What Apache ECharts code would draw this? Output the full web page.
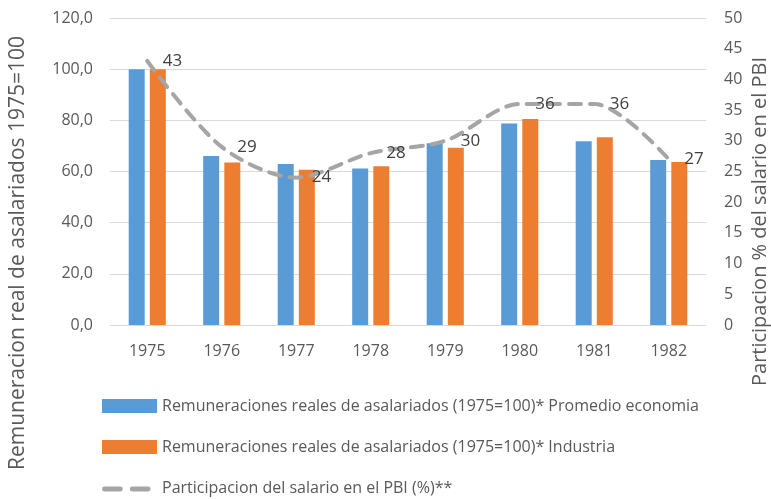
<!DOCTYPE html>
<html>
<head>
<meta charset="utf-8">
<script src="https://cdn.jsdelivr.net/npm/echarts@6/dist/echarts.min.js"></script>
<style>
  html, body { margin: 0; padding: 0; background: #fff; }
  #main { width: 771px; height: 499px; }
</style>
</head>
<body>
<div id="main"></div>
<script>
var years = ['1975', '1976', '1977', '1978', '1979', '1980', '1981', '1982'];
var promedio = [100, 66.1, 62.9, 61.2, 71.0, 78.8, 71.8, 64.5];
var industria = [100, 63.5, 60.7, 62.1, 69.3, 80.5, 73.4, 63.7];
var participacion = [43, 29, 24, 28, 30, 36, 36, 27];

var fontFam = '"Open Sans", sans-serif';
var grey = '#595959';

var nameProm = 'Remuneraciones reales de asalariados (1975=100)* Promedio economia';
var nameInd = 'Remuneraciones reales de asalariados (1975=100)* Industria';
var namePart = 'Participacion del salario en el PBI (%)**';

var chart = echarts.init(document.getElementById('main'));

var option = {
  animation: false,
  textStyle: { fontFamily: fontFam },
  grid: { left: 110, right: 65, top: 18, bottom: 174 },
  legend: {
    orient: 'vertical',
    left: 97,
    top: 393,
    height: 110,
    itemGap: 25,
    itemWidth: 55,
    itemHeight: 14,
    textStyle: { color: grey, fontSize: 16, fontFamily: fontFam },
    data: [
      { name: nameProm, icon: 'rect' },
      { name: nameInd, icon: 'rect' },
      {
        name: namePart,
        // two rounded dashes, with tiny corner dots to keep the box height
        icon: 'path://M0,0h0.01v0.01h-0.01z M0,12h0.01v0.01h-0.01z M2,4.5h16a2.5,2.5,0,0,1,0,5h-16a2.5,2.5,0,0,1,0,-5z M30,4.5h16a2.5,2.5,0,0,1,0,5h-16a2.5,2.5,0,0,1,0,-5z M55,0h0.01v0.01h-0.01z',
        itemStyle: { color: '#a5a5a5' }
      }
    ]
  },
  xAxis: {
    type: 'category',
    data: years,
    axisLine: { lineStyle: { color: '#d9d9d9' } },
    axisTick: { show: false },
    axisLabel: { color: grey, fontSize: 16, margin: 18 }
  },
  yAxis: [
    {
      type: 'value',
      min: 0, max: 120, interval: 20,
      axisLabel: {
        color: grey, fontSize: 16, margin: 17,
        formatter: function (v) { return v.toFixed(1).replace('.', ','); }
      },
      splitLine: { lineStyle: { color: '#d9d9d9' } }
    },
    {
      type: 'value',
      min: 0, max: 50, interval: 5,
      axisLabel: { color: grey, fontSize: 16, margin: 18 },
      splitLine: { show: false }
    }
  ],
  graphic: [
    {
      type: 'text',
      rotation: Math.PI / 2,
      x: 8, y: 470,
      style: {
        text: 'Remuneracion real de asalariados 1975=100',
        fill: grey, font: '21px ' + fontFam
      }
    },
    {
      type: 'text',
      rotation: Math.PI / 2,
      x: 750, y: 386,
      style: {
        text: 'Participacion % del salario en el PBI',
        fill: grey, font: '20px ' + fontFam
      }
    }
  ],
  series: [
    {
      name: nameProm,
      type: 'bar',
      data: promedio,
      barWidth: 16,
      barGap: '32%',
      itemStyle: { color: '#5b9bd5' }
    },
    {
      name: nameInd,
      type: 'bar',
      data: industria,
      barWidth: 16,
      itemStyle: { color: '#ed7d31' }
    },
    {
      name: namePart,
      type: 'line',
      yAxisIndex: 1,
      data: participacion,
      smooth: 0.3,
      symbol: 'circle',
      symbolSize: 1,
      showSymbol: true,
      lineStyle: { color: '#a5a5a5', width: 4, type: [12, 9], cap: 'round' },
      itemStyle: { color: 'rgba(165,165,165,0)' },
      label: {
        show: true, position: 'right', distance: 15, offset: [0, 0],
        color: '#404040', fontSize: 17
      },
      z: 5
    }
  ]
};

chart.setOption(option);
</script>
</body>
</html>
